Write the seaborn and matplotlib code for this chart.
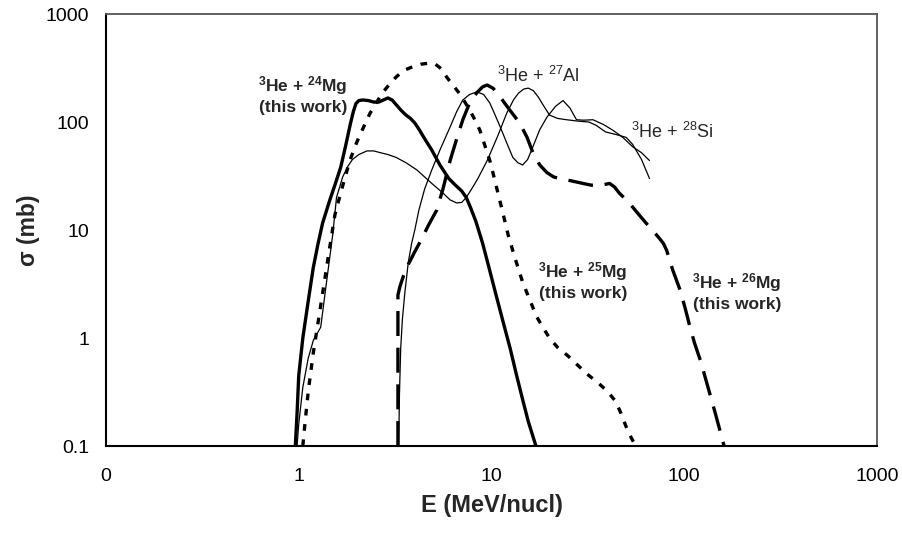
import matplotlib
matplotlib.use("Agg")
import matplotlib.pyplot as plt
import seaborn as sns
import pandas as pd
from matplotlib.ticker import FixedLocator, FixedFormatter, NullLocator

# ---------------- data ----------------
E_mg24 = [0.96, 0.98, 1.0, 1.05, 1.12, 1.19, 1.26, 1.33, 1.45, 1.55, 1.65, 1.75, 1.85, 1.92,
          1.98, 2.05, 2.15, 2.3, 2.45, 2.6, 2.75, 2.9, 3.05, 3.2, 3.4, 3.6, 3.8, 4.0, 4.2,
          4.5, 4.9, 5.4, 6.0, 6.5, 7.0, 7.4, 7.8, 8.3, 9.0, 9.7, 10.5, 11.5, 12.5, 13.5,
          14.5, 15.5, 17]
s_mg24 = [0.1, 0.2, 0.45, 1.0, 2.2, 4.5, 7.5, 11.6, 19, 27, 38, 60, 95, 125,
          148, 158, 160, 158, 153, 153, 160, 167, 160, 145, 128, 116, 108, 98, 86,
          70, 55, 40, 30, 26, 23, 20, 16, 12, 7.5, 4.5, 2.6, 1.4, 0.8, 0.45,
          0.27, 0.17, 0.1]

E_mg25 = [1.05, 1.08, 1.12, 1.19, 1.26, 1.33, 1.43, 1.54, 1.65, 1.75, 1.85, 2.0, 2.1, 2.22,
          2.34, 2.55, 2.74, 3.0, 3.2, 3.5, 3.9, 4.3, 4.7, 5.1, 5.5, 5.85, 6.3, 6.8, 7.2,
          7.7, 8.2, 8.7, 9.2, 9.8, 10.3, 10.8, 11.5, 12.2, 13.2, 14.5, 15.8, 17.2, 18.5,
          20, 22, 25, 28, 32, 36, 40, 44, 47, 50, 53, 56]
s_mg25 = [0.1, 0.17, 0.32, 0.73, 1.4, 2.6, 6, 13.8, 22, 32, 45, 65, 79, 98,
          120, 155, 190, 230, 261, 300, 325, 343, 350, 345, 310, 261, 220, 185, 158,
          129, 105, 84, 62, 44, 31, 22, 14, 9, 5.6, 3.3, 2.25, 1.56, 1.25,
          1.0, 0.82, 0.68, 0.56, 0.45, 0.38, 0.32, 0.26, 0.2, 0.15, 0.12, 0.1]

E_mg26 = [3.27, 3.27, 3.35, 3.5, 3.7, 4.0, 4.3, 4.7, 5.2, 5.6, 6.1, 6.6, 7.1, 7.7, 8.4, 9.0,
          9.5, 10.2, 11.1, 12.4, 14, 15.3, 16.4, 17.8, 19.4, 21, 22.6, 26, 29.8, 33, 36.6,
          39, 41, 43.5, 46, 50, 54, 60, 65, 70, 75, 78, 81, 87, 95, 101, 107, 113, 122,
          130, 145, 161]
s_mg26 = [0.1, 2.5, 3.0, 3.8, 4.8, 6.3, 8, 11, 15.3, 24, 44, 70, 105, 150, 187, 212,
          220, 205, 170, 130, 98, 72, 52, 40, 34, 31, 30, 28.5, 27, 26, 26,
          26.5, 27, 25, 22, 19, 16.3, 13, 11, 9.5, 8.2, 7.5, 6.5, 4.3, 2.8, 1.9, 1.27, 0.9, 0.6,
          0.4, 0.2, 0.1]

E_al27 = [0.98, 1.0, 1.05, 1.12, 1.19, 1.3, 1.4, 1.5, 1.57, 1.69, 1.8, 1.9, 2.05, 2.26, 2.45,
          2.65, 2.9, 3.2, 3.6, 4.1, 4.9, 5.6, 6.1, 6.6, 7.0, 7.4, 8.0, 8.5, 9.5, 10.8, 12,
          13, 13.8, 14.7, 15.5, 16.5, 17.5, 18.7, 20, 22, 24.5, 28, 32, 35, 39, 45, 50,
          54, 60, 66]
s_al27 = [0.1, 0.16, 0.35, 0.65, 0.95, 1.26, 3.5, 9, 20, 31, 39, 45, 50, 54, 54,
          52, 50, 47, 42, 36, 27, 22, 19, 17.8, 18, 20, 25, 30, 44, 75, 121,
          160, 185, 202, 206, 195, 170, 140, 116, 108, 105, 102, 100, 93, 81, 76, 72,
          62, 45, 30]

E_si28 = [3.3, 3.33, 3.38, 3.45, 3.55, 3.7, 3.85, 4.0, 4.2, 4.5, 4.9, 5.4, 6.1, 6.6, 7.1,
          7.7, 8.4, 9.1, 9.8, 10.4, 11.1, 12, 12.9, 13.7, 14.5, 15.4, 16.4, 17.8, 19.4,
          21.5, 23.5, 25.5, 27.6, 30, 33.6, 38, 42.6, 48, 54, 60, 66]
s_si28 = [0.1, 0.3, 0.8, 1.5, 2.6, 5, 7.5, 10, 15.3, 24, 36, 55, 90, 125, 160,
          180, 190, 180, 150, 118, 90, 64, 47, 42, 40, 45, 59, 85, 111,
          140, 158, 135, 105, 104, 105, 95, 84, 72, 59, 52, 44]

tick_vals = [0.1, 1, 10, 100, 1000]
x_tick_labels = ["0", "1", "10", "100", "1000"]
y_tick_labels = ["0.1", "1", "10", "100", "1000"]

# ---------------- style ----------------
sns.set_style("white")
plt.rcParams["font.family"] = ["Liberation Sans", "DejaVu Sans"]
plt.rcParams["mathtext.default"] = "regular"

fig = plt.figure(figsize=(9.02, 5.33), dpi=100)
ax = fig.add_axes([0.1175, 0.1632, 0.9723 - 0.1175, 0.9737 - 0.1632])

def draw(E, s, **kw):
    df = pd.DataFrame({"E": E, "s": s})
    sns.lineplot(data=df, x="E", y="s", ax=ax, sort=False, estimator=None,
                 color="black", legend=False, **kw)

draw(E_al27, s_al27, linewidth=0.9)
draw(E_si28, s_si28, linewidth=0.9)
draw(E_mg24, s_mg24, linewidth=2.4)
draw(E_mg25, s_mg25, linewidth=2.4)
draw(E_mg26, s_mg26, linewidth=2.4)
lines = ax.get_lines()
lines[3].set_dashes((2.0, 2.6))
lines[4].set_dashes((7.5, 3.5))
for ln in lines:
    ln.set_solid_joinstyle("round")
    ln.set_dash_joinstyle("round")

ax.set_xscale("log")
ax.set_yscale("log")
ax.set_xlim(0.1, 1000)
ax.set_ylim(0.1, 1000)
ax.xaxis.set_major_locator(FixedLocator(tick_vals))
ax.xaxis.set_major_formatter(FixedFormatter(x_tick_labels))
ax.yaxis.set_major_locator(FixedLocator(tick_vals))
ax.yaxis.set_major_formatter(FixedFormatter(y_tick_labels))
ax.xaxis.set_minor_locator(NullLocator())
ax.yaxis.set_minor_locator(NullLocator())
ax.tick_params(axis="both", which="major", direction="in", length=6, width=1.0,
               labelsize=14, colors="black")
ax.tick_params(axis="x", pad=16)
ax.tick_params(axis="y", pad=12)

for side in ["left", "bottom"]:
    ax.spines[side].set_color("black")
    ax.spines[side].set_linewidth(1.5)
for side in ["top", "right"]:
    ax.spines[side].set_color("#555555")
    ax.spines[side].set_linewidth(1.3)

ax.set_xlabel("E (MeV/nucl)", fontsize=17, fontweight="bold", labelpad=6)
ax.set_ylabel("σ (mb)", fontsize=16.5, fontweight="bold", labelpad=4)

def label(xp, yp, txt, bold=True, size=12.5):
    fig.text(xp / 902, 1 - yp / 533, txt, ha="center", va="center",
             fontsize=size, fontweight="bold" if bold else "normal",
             linespacing=1.25)

label(303, 95, "$^{3}$He + $^{24}$Mg\n(this work)")
label(583, 281, "$^{3}$He + $^{25}$Mg\n(this work)")
label(737, 292, "$^{3}$He + $^{26}$Mg\n(this work)")
label(538, 76, "$^{3}$He + $^{27}$Al", bold=False, size=13)
label(672, 132, "$^{3}$He + $^{28}$Si", bold=False, size=13)

fig.savefig("out.png", dpi=100)
